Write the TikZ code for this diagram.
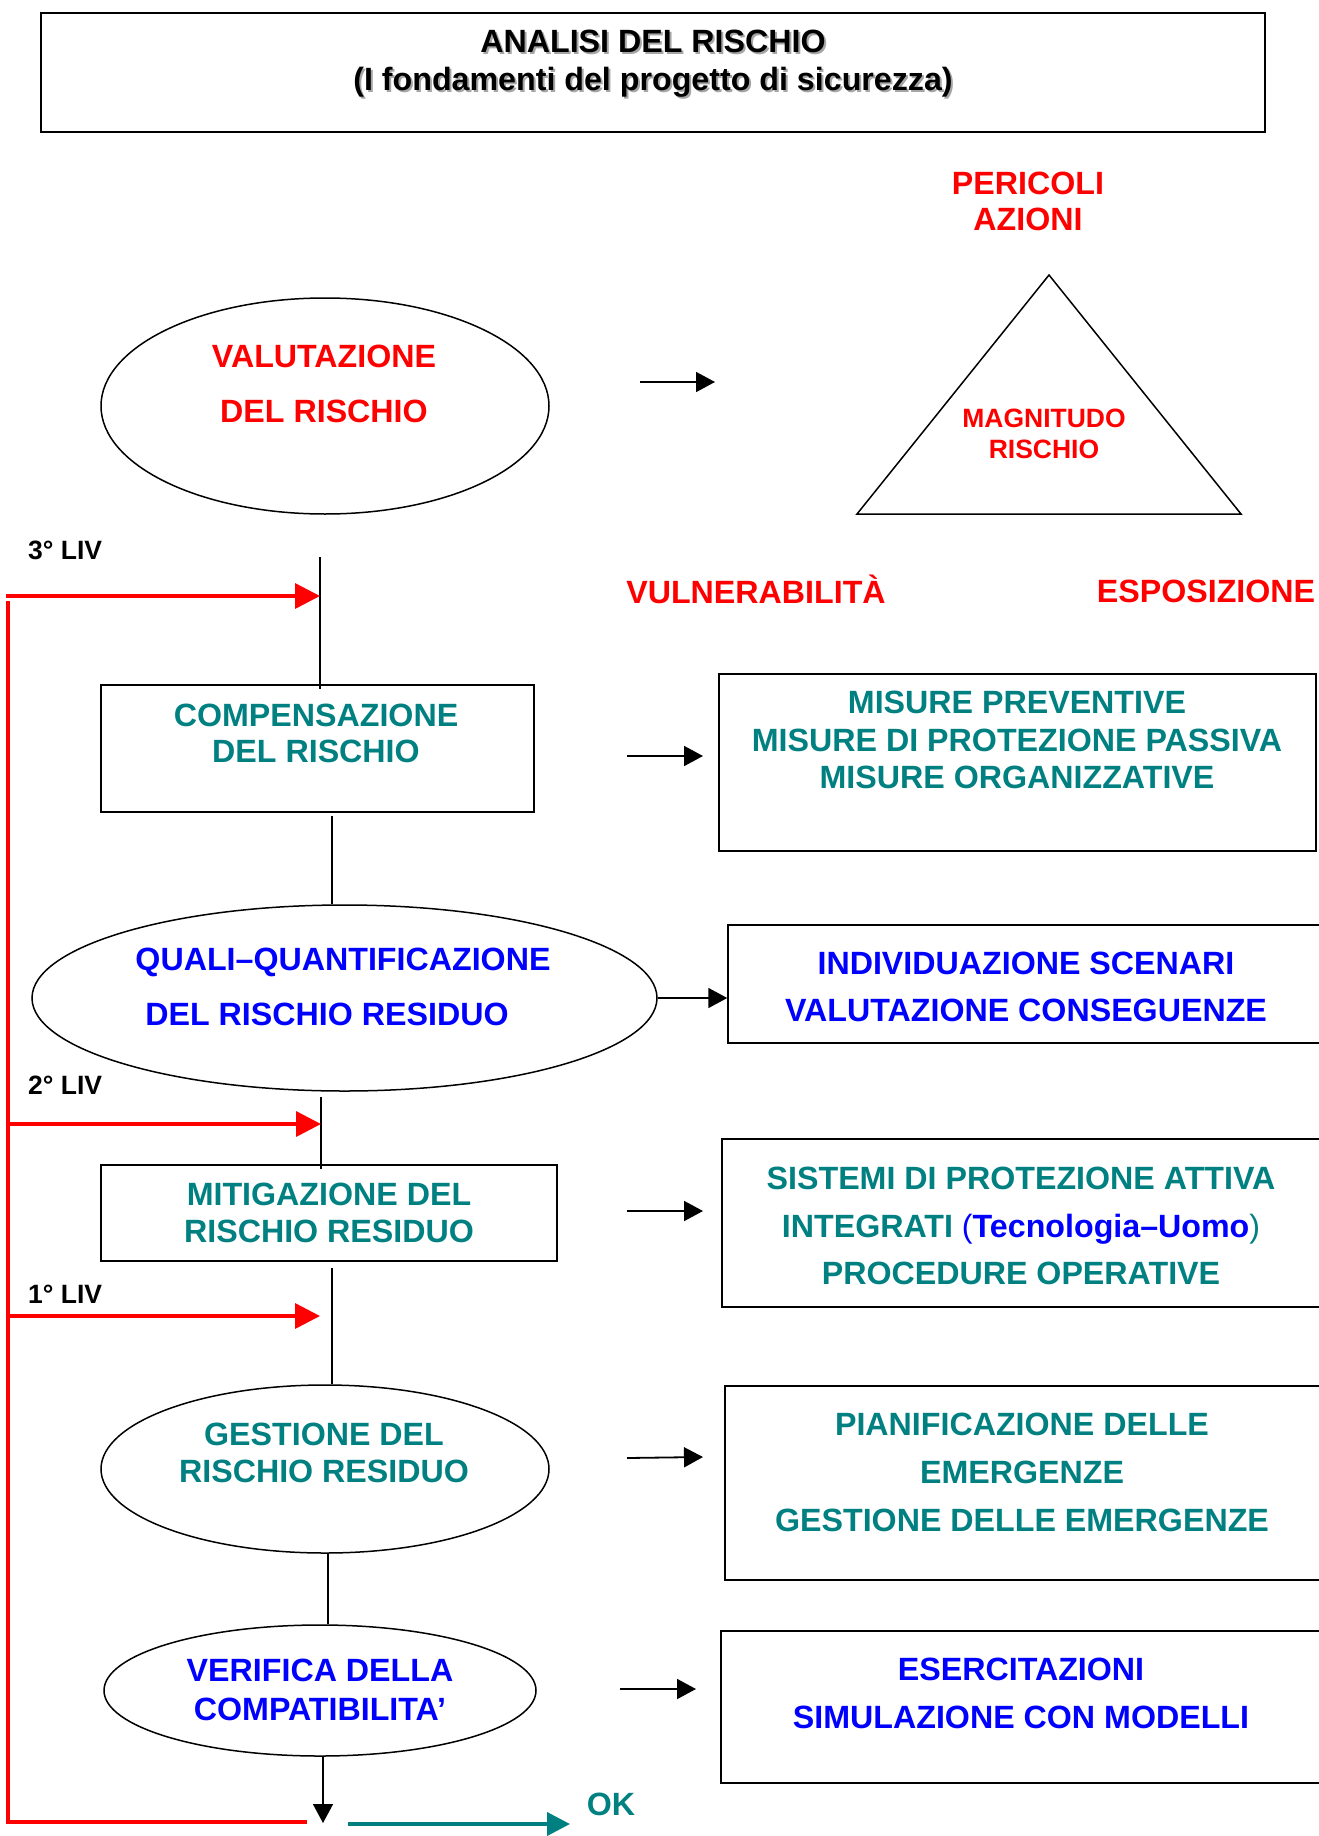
\documentclass[tikz,border=0pt]{standalone}
\usepackage{fontspec}
\setmainfont{Liberation Sans}
\usetikzlibrary{arrows.meta,shapes.geometric,calc}
\definecolor{cred}{RGB}{255,0,0}
\definecolor{cteal}{RGB}{0,128,128}
\definecolor{cblue}{RGB}{0,0,255}
\newcommand\shd[1]{\makebox[0pt][l]{\hspace{2pt}\raisebox{-2pt}{\color{black!35}#1}}#1}
\begin{document}
\begin{tikzpicture}[x=1pt,y=-1pt,
  txt/.style={align=center, inner sep=0pt, font=\bfseries\fontsize{32.2}{#1}\selectfont},
  stxt/.style={align=center, inner sep=0pt, font=\bfseries\fontsize{26.5}{#1}\selectfont},
  box/.style={draw, line width=1.5pt, inner sep=0pt},
  ell/.style={draw, ellipse, line width=1.5pt, inner sep=0pt},
  conn/.style={draw, line width=1.2pt},
  barr/.style={draw, line width=1.8pt, -{Triangle[length=19pt,width=20pt]}},
  redline/.style={draw=cred, line width=3.5pt},
  redarr/.style={draw=cred, line width=3.5pt, -{Triangle[length=25pt,width=25pt]}},
  tealarr/.style={draw=cteal, line width=4pt, -{Triangle[length=23pt,width=23pt]}}]
\useasboundingbox (0,0) rectangle (1318,1836);

% title
\node[box, minimum width=1224, minimum height=119] (titlebox) at (653,72.5) {};
\node[txt=38] (title) at (653,65) {\shd{ANALISI DEL RISCHIO}\\\shd{(I fondamenti del progetto di sicurezza)}};

% risk triangle
\node[txt=36, text=cred] (peric) at (1028,201) {PERICOLI\\AZIONI};
\coordinate (tA) at (1049,275);
\coordinate (tB) at (857,514);
\coordinate (tC) at (1241,514);
\draw[line width=1.5pt] (tA) -- (tB) -- (tC) -- cycle;
\node[stxt=31, text=cred] (magn) at (1044,434) {MAGNITUDO\\RISCHIO};
\node[txt=36, text=cred] (vuln) at (756,589) {VULNERABILITÀ};
\node[txt=36, text=cred] (espo) at (1206,591) {ESPOSIZIONE};

% valutazione
\node[ell, minimum width=448, minimum height=216] (valut) at (325,406) {};
\node[txt=55, text=cred] (valutT) at (324,384) {VALUTAZIONE\\DEL RISCHIO};
\coordinate (a1s) at (640,382);
\coordinate (a1e) at (715,382);
\draw[barr] (a1s) -- (a1e);

% levels labels
\node[stxt=30, anchor=west] (liv3) at (28,550) {3° LIV};
\node[stxt=30, anchor=west] (liv2) at (28,1085) {2° LIV};
\node[stxt=30, anchor=west] (liv1) at (28,1294) {1° LIV};

% compensazione
\node[box, minimum width=433, minimum height=127] (comp) at (317.5,748.5) {};
\node[txt=36, text=cteal] (compT) at (316,733) {COMPENSAZIONE\\DEL RISCHIO};
\node[box, minimum width=597, minimum height=177] (misure) at (1017.5,762.5) {};
\node[txt=37.5, text=cteal] (misureT) at (1017,740) {MISURE PREVENTIVE\\MISURE DI PROTEZIONE PASSIVA\\MISURE ORGANIZZATIVE};
\coordinate (a2s) at (627,756);
\coordinate (a2e) at (703,756);
\draw[barr] (a2s) -- (a2e);
\coordinate (l1) at (320,557);
\draw[conn] (l1) -- ($(l1 |- comp.north)+(0,5)$);

% quali-quantificazione
\node[ell, minimum width=625, minimum height=186] (quali) at (344.5,998) {};
\node[txt=55, text=cblue] (qualiT) at (343,987) {QUALI–QUANTIFICAZIONE\\DEL RISCHIO RESIDUO\rule{32pt}{0pt}};
\coordinate (l2) at (332,816);
\draw[conn] (l2) -- (l2 |- quali.north);
\node[box, minimum width=602, minimum height=118] (indiv) at (1029,984) {};
\node[txt=47, text=cblue] (indivT) at (1026,987) {INDIVIDUAZIONE SCENARI\\VALUTAZIONE CONSEGUENZE};
\draw[barr] (quali.east) -- (quali.east -| indiv.west);

% mitigazione
\node[box, minimum width=456, minimum height=96] (mitig) at (329,1213) {};
\node[txt=37, text=cteal] (mitigT) at (329,1213) {MITIGAZIONE DEL\\RISCHIO RESIDUO};
\coordinate (l3) at (321,1097);
\draw[conn] (l3) -- ($(l3 |- mitig.north)+(0,5)$);
\node[box, minimum width=608, minimum height=168] (sist) at (1026,1223) {};
\node[txt=47.5, text=cteal] (sistT) at (1021,1226) {SISTEMI DI PROTEZIONE ATTIVA\\INTEGRATI {\mdseries\color{cblue}(}{\color{cblue}Tecnologia–Uomo}{\mdseries )}\\PROCEDURE OPERATIVE};
\coordinate (a4s) at (627,1211);
\coordinate (a4e) at (703,1211);
\draw[barr] (a4s) -- (a4e);

% gestione
\node[ell, minimum width=448, minimum height=168] (gest) at (325,1469) {};
\node[txt=37, text=cteal] (gestT) at (324,1453) {GESTIONE DEL\\RISCHIO RESIDUO};
\coordinate (l4) at (332,1268);
\draw[conn] (l4) -- (l4 |- gest.north);
\node[box, minimum width=605, minimum height=194] (pian) at (1027.5,1483) {};
\node[txt=48, text=cteal] (pianT) at (1022,1472) {PIANIFICAZIONE DELLE\\EMERGENZE\\GESTIONE DELLE EMERGENZE};
\coordinate (a5s) at (627,1458);
\coordinate (a5e) at (703,1457);
\draw[barr] (a5s) -- (a5e);

% verifica
\node[ell, minimum width=432, minimum height=131] (verif) at (320,1690.5) {};
\node[txt=39, text=cblue] (verifT) at (320,1690) {VERIFICA DELLA\\COMPATIBILITA’};
\coordinate (l5) at (328,1553);
\draw[conn] (l5) -- (l5 |- verif.north);
\node[box, minimum width=609, minimum height=152] (eserc) at (1025.5,1707) {};
\node[txt=48, text=cblue] (esercT) at (1021,1693) {ESERCITAZIONI\\SIMULAZIONE CON MODELLI};
\coordinate (a6s) at (620,1689);
\coordinate (a6e) at (696,1689);
\draw[barr] (a6s) -- (a6e);
\coordinate (vend) at (323,1823);
\draw[line width=1.5pt, -{Triangle[length=19pt,width=20pt]}] (vend |- verif.south) -- (vend);

% red feedback loop
\coordinate (rtop) at (8,601);
\coordinate (rbot) at (8,1822);
\coordinate (rend) at (307,1822);
\draw[redline] (rtop) -- (rbot) -- (rend);
\coordinate (r3s) at (6.25,596);
\draw[redarr] (r3s) -- (r3s -| l1);
\coordinate (r2s) at (6.25,1124);
\draw[redarr] (r2s) -- (r2s -| l3);
\coordinate (r1s) at (6.25,1316);
\coordinate (r1e) at (320,1316);
\draw[redarr] (r1s) -- (r1e);

% OK
\coordinate (oks) at (348,1824);
\coordinate (oke) at (570,1824);
\draw[tealarr] (oks) -- (oke);
\node[txt=36, text=cteal] (ok) at (611,1804) {OK};
\end{tikzpicture}
\end{document}
